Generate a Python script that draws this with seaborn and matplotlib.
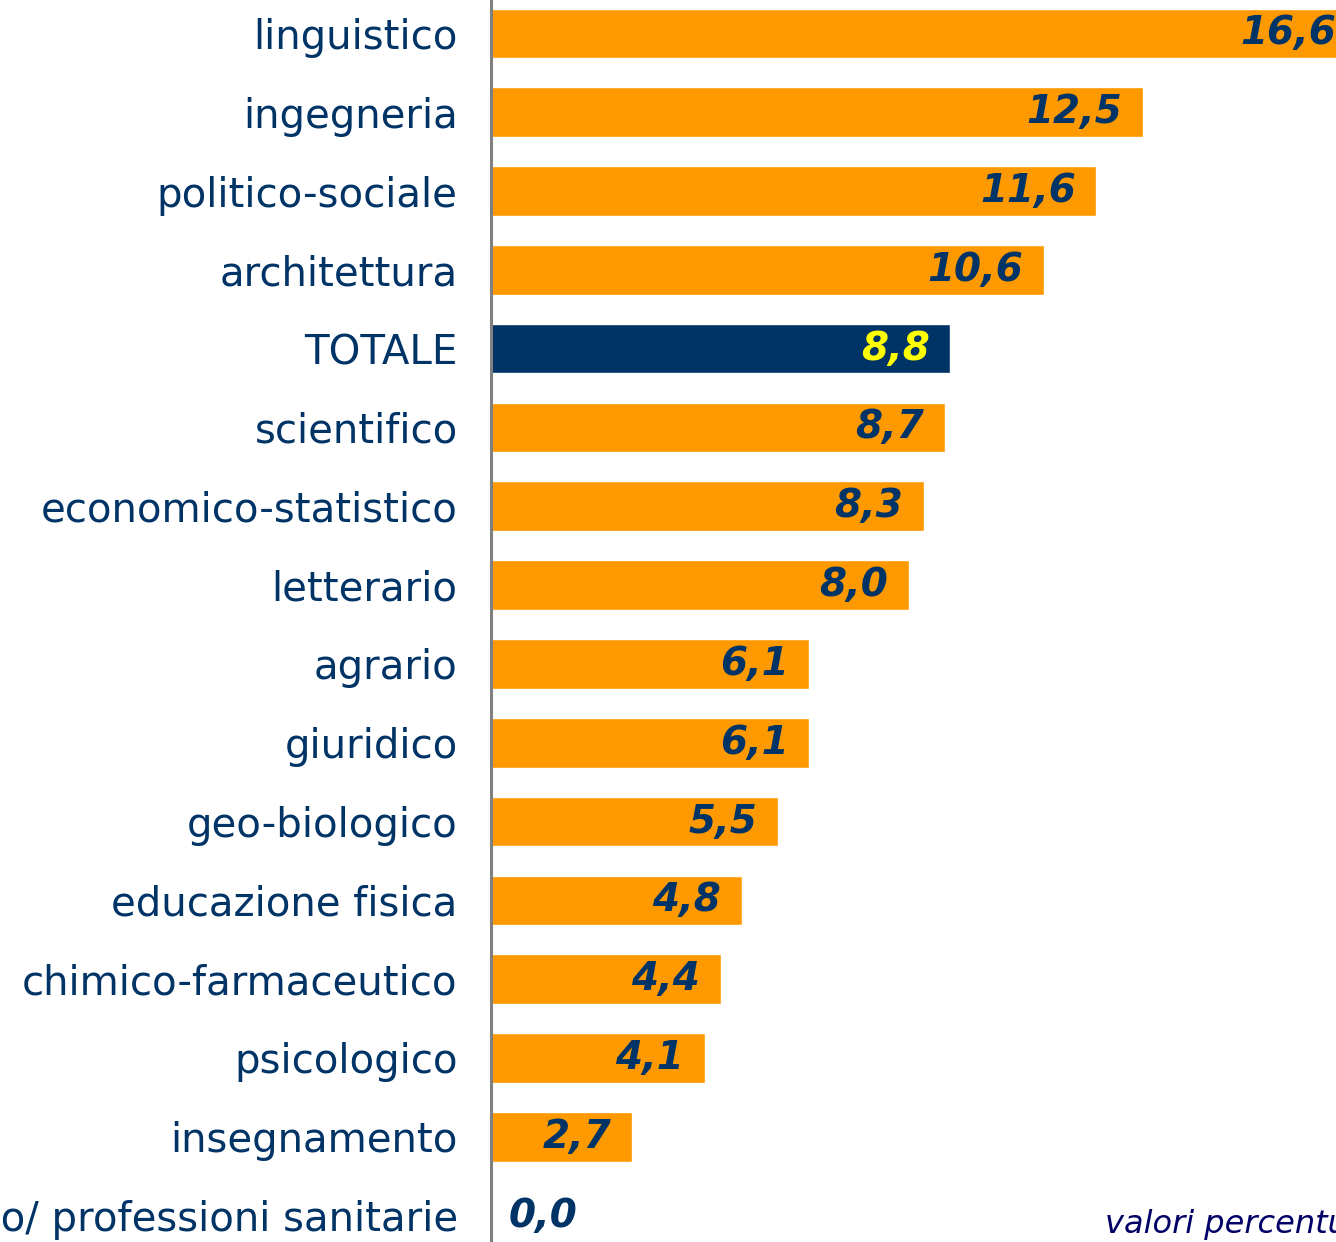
import pandas as pd
import matplotlib.pyplot as plt
import seaborn as sns

# data
categories = ["linguistico", "ingegneria", "politico-sociale", "architettura", "TOTALE",
              "scientifico", "economico-statistico", "letterario", "agrario", "giuridico",
              "geo-biologico", "educazione fisica", "chimico-farmaceutico", "psicologico",
              "insegnamento", "medico/ professioni sanitarie"]
values = [16.6, 12.5, 11.6, 10.6, 8.8, 8.7, 8.3, 8.0, 6.1, 6.1, 5.5, 4.8, 4.4, 4.1, 2.7, 0.0]
groups = ["tot" if c == "TOTALE" else "gruppo" for c in categories]

df = pd.DataFrame({"gruppo": categories, "valore": values, "tipo": groups})

navy = "#003366"
orange = "#FF9900"

sns.set_style("white")
plt.rcParams['font.family'] = ['DejaVu Sans']

fig = plt.figure(figsize=(13.36, 12.42), dpi=100)
ax = fig.add_axes([491 / 1336, -13 / 1242, 1 - 491 / 1336, 1261 / 1242])

sns.barplot(data=df, y="gruppo", x="valore", hue="tipo", orient="h",
            palette={"gruppo": orange, "tot": navy}, width=0.63,
            dodge=False, legend=False, ax=ax, saturation=1)

ax.set_xlim(0, 16.19)
ax.set_ylim(15.5, -0.5)
ax.set_xlabel("")
ax.set_ylabel("")
ax.set_xticks([])
ax.tick_params(axis="y", length=0, pad=24, labelsize=29, labelcolor=navy)

for s in ["top", "right", "bottom"]:
    ax.spines[s].set_visible(False)
ax.spines["left"].set_color("#808080")
ax.spines["left"].set_linewidth(2.2)

for i, v in enumerate(values):
    txt = f"{v:.1f}".replace(".", ",")
    col = "#FFFF00" if categories[i] == "TOTALE" else navy
    if v > 0:
        ax.annotate(txt, (v, i), xytext=(-15, 0), textcoords="offset points",
                    ha="right", va="center", fontsize=28, fontweight="bold",
                    fontstyle="italic", color=col, annotation_clip=False)
    else:
        ax.annotate(txt, (v, i), xytext=(13, 0), textcoords="offset points",
                    ha="left", va="center", fontsize=28, fontweight="bold",
                    fontstyle="italic", color=col, annotation_clip=False)

fig.text(1105 / 1336, 2 / 1242, "valori percentuali", ha="left", va="bottom",
         fontsize=23, fontstyle="italic", color="#000066")

plt.savefig("out.png", dpi=100)
